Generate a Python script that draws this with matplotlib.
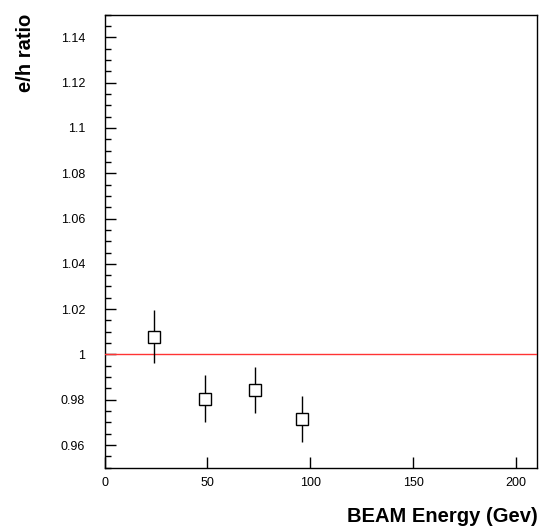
import matplotlib
matplotlib.use("Agg")
import matplotlib.pyplot as plt
from matplotlib.ticker import MultipleLocator

plt.rcParams["font.family"] = ["Liberation Sans", "DejaVu Sans"]

energy = [24, 49, 73, 96]
ratio = [1.0079, 0.9804, 0.9844, 0.9716]
ratio_err = [0.0118, 0.0103, 0.0101, 0.0101]
ref_level = 1.0

fig = plt.figure(figsize=(5.39, 5.32), dpi=100)
ax = fig.add_axes([0.1939, 0.1209, 0.8015, 0.8515])

ax.axhline(ref_level, color="#ff3333", lw=1.0, zorder=3)
ax.errorbar(energy, ratio, yerr=ratio_err, fmt="s", mfc="white", mec="black",
            ms=8, mew=1.0, ecolor="black", elinewidth=1.0, capsize=0, zorder=4)

ax.set_xlim(0, 210)
ax.set_ylim(0.95, 1.15)
ax.xaxis.set_major_locator(MultipleLocator(50))
ax.yaxis.set_major_locator(MultipleLocator(0.02))
ax.yaxis.set_minor_locator(MultipleLocator(0.005))
ax.yaxis.set_major_formatter(plt.FuncFormatter(lambda v, p: ("%.2f" % v).rstrip("0").rstrip(".")))
ax.tick_params(direction="in", which="major", length=8, width=1, labelsize=9, pad=7)
ax.tick_params(direction="in", which="minor", length=4, width=1)
ax.tick_params(axis="y", pad=14)
for s in ax.spines.values():
    s.set_linewidth(1.0)

fig.text(0.0464, 0.975, "e/h ratio", rotation=90, ha="center", va="top",
         fontsize=14.5, fontweight="bold")
fig.text(0.997, 0.019, "BEAM Energy (Gev)", ha="right", va="baseline",
         fontsize=14.5, fontweight="bold")

fig.savefig("out.png", dpi=100)
